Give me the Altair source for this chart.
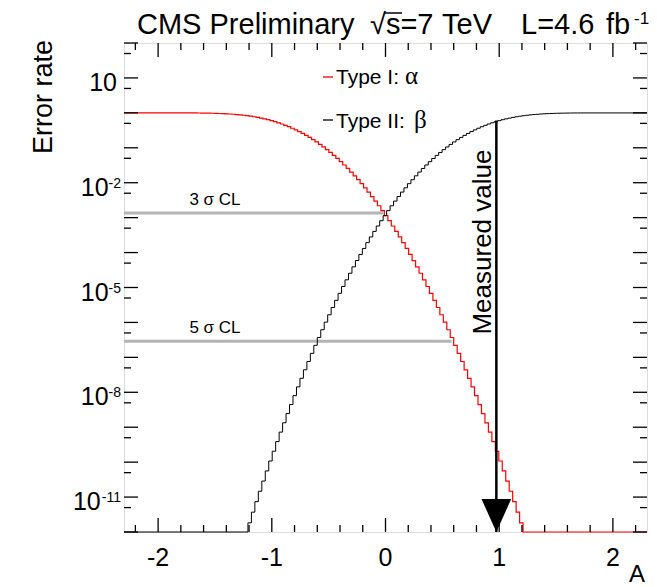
import altair as alt
import pandas as pd

# ---------------- data ----------------
X_DOMAIN = [-2.3, 2.3]
Y_DOMAIN = [1e-12, 1e2]

bin_width = 0.0305
alpha_x0 = -1.718      # left edge of first alpha bin
beta_x0 = -1.2405      # left edge of first beta bin

# log10 of bin contents (Type I: alpha, red)
alpha_log10 = [-0.002, -0.003, -0.004, -0.005, -0.007, -0.009, -0.011, -0.014, -0.018, -0.022,
               -0.027, -0.033, -0.040, -0.049, -0.058, -0.069, -0.082, -0.096, -0.112, -0.130,
               -0.150, -0.172, -0.196, -0.223, -0.252, -0.284,
               -0.319, -0.356, -0.397, -0.440, -0.486, -0.536, -0.589, -0.645, -0.704, -0.767,
               -0.833, -0.903, -0.976, -1.053, -1.134, -1.218, -1.306, -1.397, -1.493, -1.592,
               -1.695, -1.802, -1.913, -2.027, -2.146, -2.268, -2.396, -2.526, -2.660, -2.799,
               -2.942, -3.088, -3.239, -3.394, -3.553, -3.715, -3.882, -4.054, -4.228, -4.408,
               -4.592, -4.780, -4.971, -5.167, -5.368, -5.572, -5.780, -5.991, -6.210, -6.431,
               -6.656, -6.886, -7.119, -7.357, -7.599, -7.845, -8.096, -8.351, -8.609, -8.873,
               -9.140, -9.412, -9.688, -9.967, -10.252, -10.541, -10.833, -11.131, -11.432, -11.738,
               -12.051]

# log10 of bin contents (Type II: beta, black)
beta_log10 = [-12.051, -11.738, -11.432, -11.131, -10.833, -10.541, -10.252, -9.967, -9.688, -9.412,
              -9.140, -8.873, -8.609, -8.351, -8.096, -7.845, -7.599, -7.357, -7.119, -6.886,
              -6.656, -6.431, -6.210, -5.991, -5.780, -5.572, -5.368, -5.167, -4.971, -4.780,
              -4.592, -4.408, -4.228, -4.054, -3.882, -3.715, -3.553, -3.394, -3.239, -3.088,
              -2.942, -2.799, -2.660, -2.526, -2.396, -2.268, -2.146, -2.027, -1.913, -1.802,
              -1.695, -1.592, -1.493, -1.397, -1.306, -1.218, -1.134, -1.053, -0.976, -0.903,
              -0.833, -0.767, -0.704, -0.645, -0.589, -0.536, -0.486, -0.440, -0.397, -0.356,
              -0.319, -0.284, -0.252, -0.223, -0.196, -0.172, -0.150, -0.130, -0.112, -0.096,
              -0.082, -0.069, -0.058, -0.049, -0.040, -0.033, -0.027, -0.022, -0.018, -0.014,
              -0.011, -0.009, -0.007, -0.005, -0.004, -0.003, -0.002]

measured_value = 0.975
arrow_top = 0.6
measured_label_y = 2e-4

cl_levels = [1.35e-3, 2.87e-7]
cl_ends = [-0.02, 0.58]
cl_labels = ["3 σ CL", "5 σ CL"]
cl_label_x = [-1.5, -1.5]

x_major = [-2, -1, 0, 1, 2]
x_labels = ["-2", "-1", "0", "1", "2"]
x_minor = [-2.2, -1.8, -1.6, -1.4, -1.2, -0.8, -0.6, -0.4, -0.2,
           0.2, 0.4, 0.6, 0.8, 1.2, 1.4, 1.6, 1.8, 2.2]
y_major_exp = list(range(-12, 3))
y_minor_mant = 5
y_label_exp = [1, -2, -5, -8, -11]

title_words = ["CMS Preliminary", "√s=7", "TeV", "L=4.6", "fb"]

# ---------------- layout ----------------
W, H = 523, 489
FONT = "Liberation Sans"
xscale = alt.Scale(domain=X_DOMAIN, nice=False, zero=False)
yscale = alt.Scale(type="log", domain=Y_DOMAIN, nice=False)


def hist_df(x0, vals, left_val, right_val):
    xs = [X_DOMAIN[0]]
    ys = [left_val]
    for i, v in enumerate(vals):
        xs.append(x0 + i * bin_width)
        ys.append(max(10 ** v, Y_DOMAIN[0]))
    xs.append(x0 + len(vals) * bin_width)
    ys.append(right_val)
    xs.append(X_DOMAIN[1])
    ys.append(right_val)
    return pd.DataFrame({"x": xs, "y": ys, "i": range(len(xs))})


alpha_df = hist_df(alpha_x0, alpha_log10, 10 ** alpha_log10[0], Y_DOMAIN[0])
beta_df = hist_df(beta_x0, beta_log10, Y_DOMAIN[0], 10 ** beta_log10[-1])


def step_line(df, color, sw):
    return alt.Chart(df).mark_line(interpolate="step-after", color=color, strokeWidth=sw).encode(
        x=alt.X("x:Q", scale=xscale, axis=None),
        y=alt.Y("y:Q", scale=yscale, axis=None),
        order="i:Q",
    )


cl_df = pd.DataFrame({"x0": [X_DOMAIN[0]] * 2, "x1": cl_ends, "y": cl_levels,
                      "lx": cl_label_x, "t": cl_labels})
cl_rules = alt.Chart(cl_df).mark_rule(color="#b4b4b4", strokeWidth=3).encode(
    x=alt.X("x0:Q", scale=xscale, axis=None), x2="x1:Q",
    y=alt.Y("y:Q", scale=yscale, axis=None))
cl_text = alt.Chart(cl_df).mark_text(font=FONT, fontSize=17, align="center",
                                     baseline="alphabetic", dy=-8).encode(
    x=alt.X("lx:Q", scale=xscale, axis=None), y=alt.Y("y:Q", scale=yscale, axis=None), text="t:N")

arrow_df = pd.DataFrame({"x": [measured_value], "top": [arrow_top], "bot": [Y_DOMAIN[0]],
                         "ly": [measured_label_y]})
arrow_line = alt.Chart(arrow_df).mark_rule(color="black", strokeWidth=2.5).encode(
    x=alt.X("x:Q", scale=xscale, axis=None), y=alt.Y("top:Q", scale=yscale, axis=None), y2="bot:Q")
arrow_head = alt.Chart(arrow_df).mark_point(shape="M-0.9,-2L0.9,-2L0,0Z", size=1089, filled=True,
                                            color="black", opacity=1, strokeWidth=0).encode(
    x=alt.X("x:Q", scale=xscale, axis=None), y=alt.Y("bot:Q", scale=yscale, axis=None))
arrow_text = alt.Chart(arrow_df).mark_text(text="Measured value", font=FONT, fontSize=26, angle=270,
                                           align="center", baseline="alphabetic", dy=-5).encode(
    x=alt.X("x:Q", scale=xscale, axis=None), y=alt.Y("ly:Q", scale=yscale, axis=None))

# ticks (ROOT style: inside, on all four sides)
xmaj_df = pd.DataFrame({"x": x_major, "t": x_labels})
xmin_df = pd.DataFrame({"x": x_minor})
ymaj_df = pd.DataFrame({"y": [10.0 ** e for e in y_major_exp]})
ymin_df = pd.DataFrame({"y": [y_minor_mant * 10.0 ** e for e in y_major_exp[:-1]]})


def xticks(df, length):
    base = alt.Chart(df).mark_rule(color="black", strokeWidth=1.3)
    enc_x = alt.X("x:Q", scale=xscale, axis=None)
    return (base.encode(x=enc_x, y=alt.value(H), y2=alt.value(H - length)) +
            base.encode(x=enc_x, y=alt.value(0), y2=alt.value(length)))


def yticks(df, length):
    base = alt.Chart(df).mark_rule(color="black", strokeWidth=1.3)
    enc_y = alt.Y("y:Q", scale=yscale, axis=None)
    return (base.encode(y=enc_y, x=alt.value(0), x2=alt.value(length)) +
            base.encode(y=enc_y, x=alt.value(W), x2=alt.value(W - length)))


xlab = alt.Chart(xmaj_df).mark_text(font=FONT, fontSize=25, align="center", baseline="alphabetic").encode(
    x=alt.X("x:Q", scale=xscale, axis=None), y=alt.value(H + 34), text="t:N")

ylab_rows = []
for e in y_label_exp:
    sup = "" if e == 1 else str(e)
    sup_w = 14 * (0.333 * sup.count("-") + 0.556 * sum(c.isdigit() for c in sup))
    ylab_rows.append({"v": 10.0 ** e, "base": "10", "sup": sup,
                      "bx": -3 - sup_w - (4 if sup == "" else 0), "sx": -3})
ylab_df = pd.DataFrame(ylab_rows)
ylab_base = alt.Chart(ylab_df).mark_text(font=FONT, fontSize=25, align="right", baseline="alphabetic",
                                         dy=13).encode(
    x=alt.X("bx:Q", scale=None), y=alt.Y("v:Q", scale=yscale, axis=None), text="base:N")
ylab_sup = alt.Chart(ylab_df).mark_text(font=FONT, fontSize=14, align="right", baseline="alphabetic",
                                        dy=5).encode(
    x=alt.X("sx:Q", scale=None), y=alt.Y("v:Q", scale=yscale, axis=None), text="sup:N")

one = pd.DataFrame({"k": [0]})


def label(text, x, y, size, align="left", font=FONT, color="black", angle=None):
    props = dict(text=text, align=align, baseline="alphabetic", font=font, fontSize=size, color=color)
    if angle is not None:
        props["angle"] = angle
    return alt.Chart(one).mark_text(**props).encode(x=alt.value(x), y=alt.value(y))


def seg(x1, x2, y, color, sw):
    return alt.Chart(one).mark_rule(color=color, strokeWidth=sw).encode(
        x=alt.value(x1), x2=alt.value(x2), y=alt.value(y))


title_x = [13, 246, 318, 397, 482]
title_layers = [label(w, x, -9, 29) for w, x in zip(title_words, title_x)]
title_layers += [
    seg(261, 278, -30, "black", 1.5),
    label("-1", 510, -19, 17),
]

legend_layers = [
    seg(199, 209, 34, "red", 1.3),
    label("Type I:", 212, 41, 21),
    label("α", 281, 41, 25, font="Liberation Serif"),
    seg(199, 209, 77, "black", 1.3),
    label("Type II:", 212, 85, 21),
    label("β", 290, 85, 25, font="Liberation Serif"),
]

axis_titles = [
    label("Error rate", -72, -3, 27, align="right", angle=270),
    label("A", 521, 539, 24, align="right"),
]

chart = alt.layer(
    cl_rules,
    step_line(alpha_df, "#ff0000", 1.2),
    step_line(beta_df, "#000000", 1.0),
    cl_text,
    arrow_line, arrow_head, arrow_text,
    xticks(xmaj_df, 14), xticks(xmin_df, 7),
    yticks(ymaj_df, 14), yticks(ymin_df, 7),
    xlab, ylab_base, ylab_sup,
    *title_layers, *legend_layers, *axis_titles,
).properties(
    width=W, height=H,
    autosize=alt.AutoSizeParams(type="none"),
    padding={"left": 124, "top": 43, "right": 10, "bottom": 55},
).configure_view(stroke="black", strokeWidth=2).configure(background="white")

chart.save("out.html", embed_options={"renderer": "svg", "actions": False})
